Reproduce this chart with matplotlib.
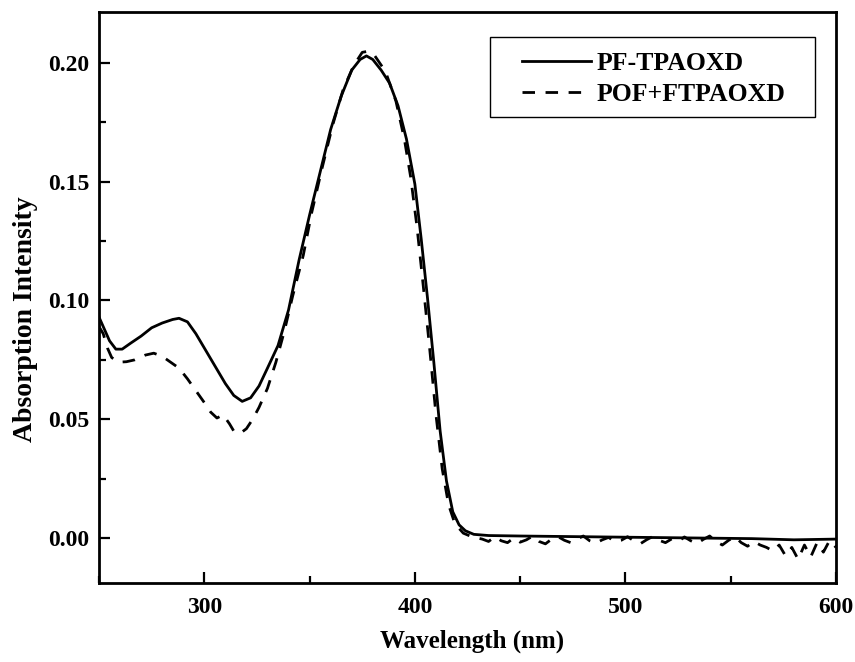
import matplotlib
matplotlib.use("Agg")
import matplotlib.pyplot as plt
from matplotlib.ticker import MultipleLocator
from matplotlib.patches import Rectangle

# ---- data ----
wl_solid = [250, 252, 255, 258, 261, 265, 270, 275, 280, 285, 288, 292, 296, 300,
            305, 310, 314, 318, 322, 326, 330, 335, 340, 345, 350, 355, 360, 365,
            370, 374, 377, 380, 384, 388, 392, 396, 400, 403, 406, 409, 412, 415,
            418, 421, 424, 428, 435, 450, 470, 500, 530, 560, 580, 600]
abs_solid = [0.093, 0.089, 0.083, 0.0795, 0.0795, 0.082, 0.085, 0.0885, 0.0905,
             0.092, 0.0925, 0.091, 0.086, 0.080, 0.0725, 0.065, 0.060, 0.0575,
             0.059, 0.064, 0.0715, 0.081, 0.096, 0.117, 0.136, 0.154, 0.172,
             0.186, 0.197, 0.2015, 0.203, 0.2015, 0.197, 0.1915, 0.182, 0.168,
             0.149, 0.126, 0.101, 0.074, 0.045, 0.024, 0.011, 0.0055, 0.003,
             0.0015, 0.001, 0.0008, 0.0006, 0.0003, 0.0, -0.0003, -0.0008, -0.0005]

wl_dash = [250, 252, 254, 256, 259, 263, 267, 272, 276, 280, 284, 288, 292, 296,
           300, 303, 306, 309, 312, 314, 317, 320, 323, 326, 330, 334, 338, 342,
           347, 351, 356, 361, 366, 371, 375, 378, 381, 386, 391, 395, 398, 401,
           404, 407, 410, 413, 416, 419, 423, 427,
           432, 435, 438, 441, 444, 447, 450, 453, 456, 459, 462, 465, 468, 471,
           474, 477, 480, 483, 486, 489, 492, 495, 498, 501, 504, 507, 510, 513,
           516, 519, 522, 525, 528, 531, 534, 537, 540, 543, 546, 549, 552, 555,
           558, 561, 564, 567, 570, 573, 576, 579, 582, 585, 588, 591, 594, 597, 600]
abs_dash = [0.089, 0.086, 0.080, 0.076, 0.074, 0.0742, 0.075, 0.077, 0.0778,
            0.0765, 0.074, 0.0715, 0.067, 0.062, 0.057, 0.053, 0.0505, 0.0518,
            0.048, 0.045, 0.044, 0.046, 0.050, 0.055, 0.063, 0.074, 0.087, 0.102,
            0.119, 0.137, 0.156, 0.174, 0.189, 0.199, 0.2045, 0.205, 0.203,
            0.1965, 0.184, 0.168, 0.152, 0.131, 0.106, 0.080, 0.052, 0.029,
            0.014, 0.006, 0.002, 0.0005,
            -0.0005, -0.0015, 0.0005, -0.0012, -0.002, 0.0, -0.0018, -0.0008,
            0.0008, -0.0015, -0.0025, -0.0005, 0.0005, -0.001, -0.002, -0.0005,
            0.0008, -0.0012, -0.0022, -0.0008, 0.0002, -0.0015, -0.001, 0.0005,
            -0.0012, -0.0025, -0.0008, 0.0006, -0.001, -0.002, -0.0004, -0.0016,
            0.0004, -0.0012, -0.0024, -0.0006, 0.0008, -0.0015, -0.003, -0.001,
            0.0005, -0.002, -0.0035, -0.0015, -0.003, -0.004, -0.0055, -0.003,
            -0.0075, -0.004, -0.009, -0.003, -0.008, -0.002, -0.006, -0.001, -0.004]

labels = ["PF-TPAOXD", "POF+FTPAOXD"]
x_ticks = [300, 400, 500, 600]
y_ticks = [0.00, 0.05, 0.10, 0.15, 0.20]

plt.rcParams['font.family'] = ['Liberation Serif', 'DejaVu Serif']
plt.rcParams['font.weight'] = 'bold'

fig = plt.figure(figsize=(8.55, 6.62), dpi=100)
ax = fig.add_axes([0.1158, 0.1193, 0.862, 0.8626])

ax.plot(wl_solid, abs_solid, color='black', lw=2.0, ls='-', label=labels[0])
ax.plot(wl_dash, abs_dash, color='black', lw=2.0, ls=(0, (4.5, 3.8)), label=labels[1])

ax.set_xlim(250, 600)
ax.set_ylim(-0.019, 0.2215)
ax.set_xticks(x_ticks)
ax.set_yticks(y_ticks)
ax.set_xticklabels([str(t) for t in x_ticks])
ax.set_yticklabels([f"{t:.2f}" for t in y_ticks])
ax.xaxis.set_minor_locator(MultipleLocator(50))
ax.yaxis.set_minor_locator(MultipleLocator(0.025))
ax.tick_params(which='both', direction='in', top=False, right=False,
               labelsize=17, width=1.6)
ax.tick_params(axis='y', which='major', length=8, pad=7)
ax.tick_params(axis='x', which='major', length=8, pad=10)
ax.tick_params(which='minor', length=5)
for s in ax.spines.values():
    s.set_linewidth(2.0)

ax.set_xlabel("Wavelength (nm)", fontsize=18, fontweight='bold')
ax.set_ylabel("Absorption Intensity", fontsize=20, fontweight='bold')
ax.xaxis.set_label_coords(0.5055, -0.082)
ax.yaxis.set_label_coords(-0.083, 0.462)

# legend frame drawn as a plain rectangle in axes coordinates
ax.add_patch(Rectangle((0.5305, 0.816), 0.9715 - 0.5305, 0.956 - 0.816,
                       transform=ax.transAxes, fill=False, edgecolor='black',
                       linewidth=1.0, zorder=5))
leg = ax.legend(loc='upper left', bbox_to_anchor=(0.574, 0.93),
                borderaxespad=0, fontsize=18.5, handlelength=2.7,
                frameon=False, borderpad=0.0,
                labelspacing=0.3, handletextpad=0.2)
for t in leg.get_texts():
    t.set_fontweight('bold')

fig.savefig("out.png", dpi=100)
